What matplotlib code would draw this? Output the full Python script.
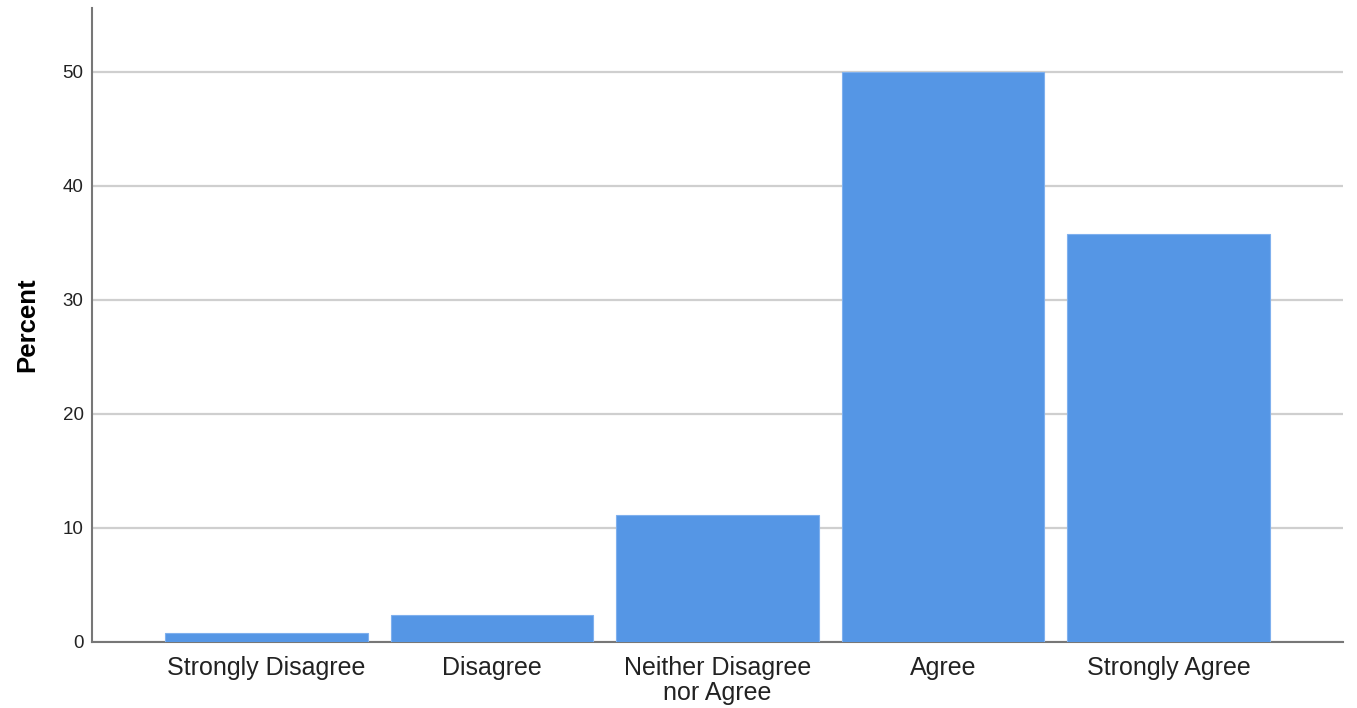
import matplotlib
matplotlib.use("Agg")
import matplotlib.pyplot as plt

categories = ["Strongly Disagree", "Disagree", "Neither Disagree\nnor Agree", "Agree", "Strongly Agree"]
percent = [0.8, 2.4, 11.1, 50.0, 35.8]
yticks = [0, 10, 20, 30, 40, 50]

plt.rcParams['font.family'] = ['Liberation Sans', 'DejaVu Sans']

fig = plt.figure(figsize=(13.57, 7.08), dpi=100)
ax = fig.add_axes([92/1357, 66/708, (1343-92)/1357, (642-8)/708])

x = list(range(len(categories)))
ax.bar(x, percent, width=0.9, color="#5596E5", edgecolor="#7fb0ee", linewidth=0.8, zorder=3)

ax.set_xlim(-0.774, 4.774)
ax.set_ylim(0, 55.6)
ax.set_yticks(yticks)
ax.set_yticklabels([str(t) for t in yticks], fontsize=13.5, color="#222222")
ax.set_xticks(x)
ax.set_xticklabels(categories, fontsize=18, linespacing=1.08, color="#222222")
ax.tick_params(axis='both', length=0)
ax.tick_params(axis='y', pad=6)
ax.tick_params(axis='x', pad=10)

ax.grid(axis='y', color="#cfcfcf", linewidth=1.6, zorder=0)
ax.grid(axis='x', visible=False)
for s in ["top", "right"]:
    ax.spines[s].set_visible(False)
for s in ["left", "bottom"]:
    ax.spines[s].set_color("#777777")
    ax.spines[s].set_linewidth(1.5)

ax.set_ylabel("Percent", fontsize=18.5, fontweight="bold", labelpad=17)

fig.savefig("out.png", dpi=100)
